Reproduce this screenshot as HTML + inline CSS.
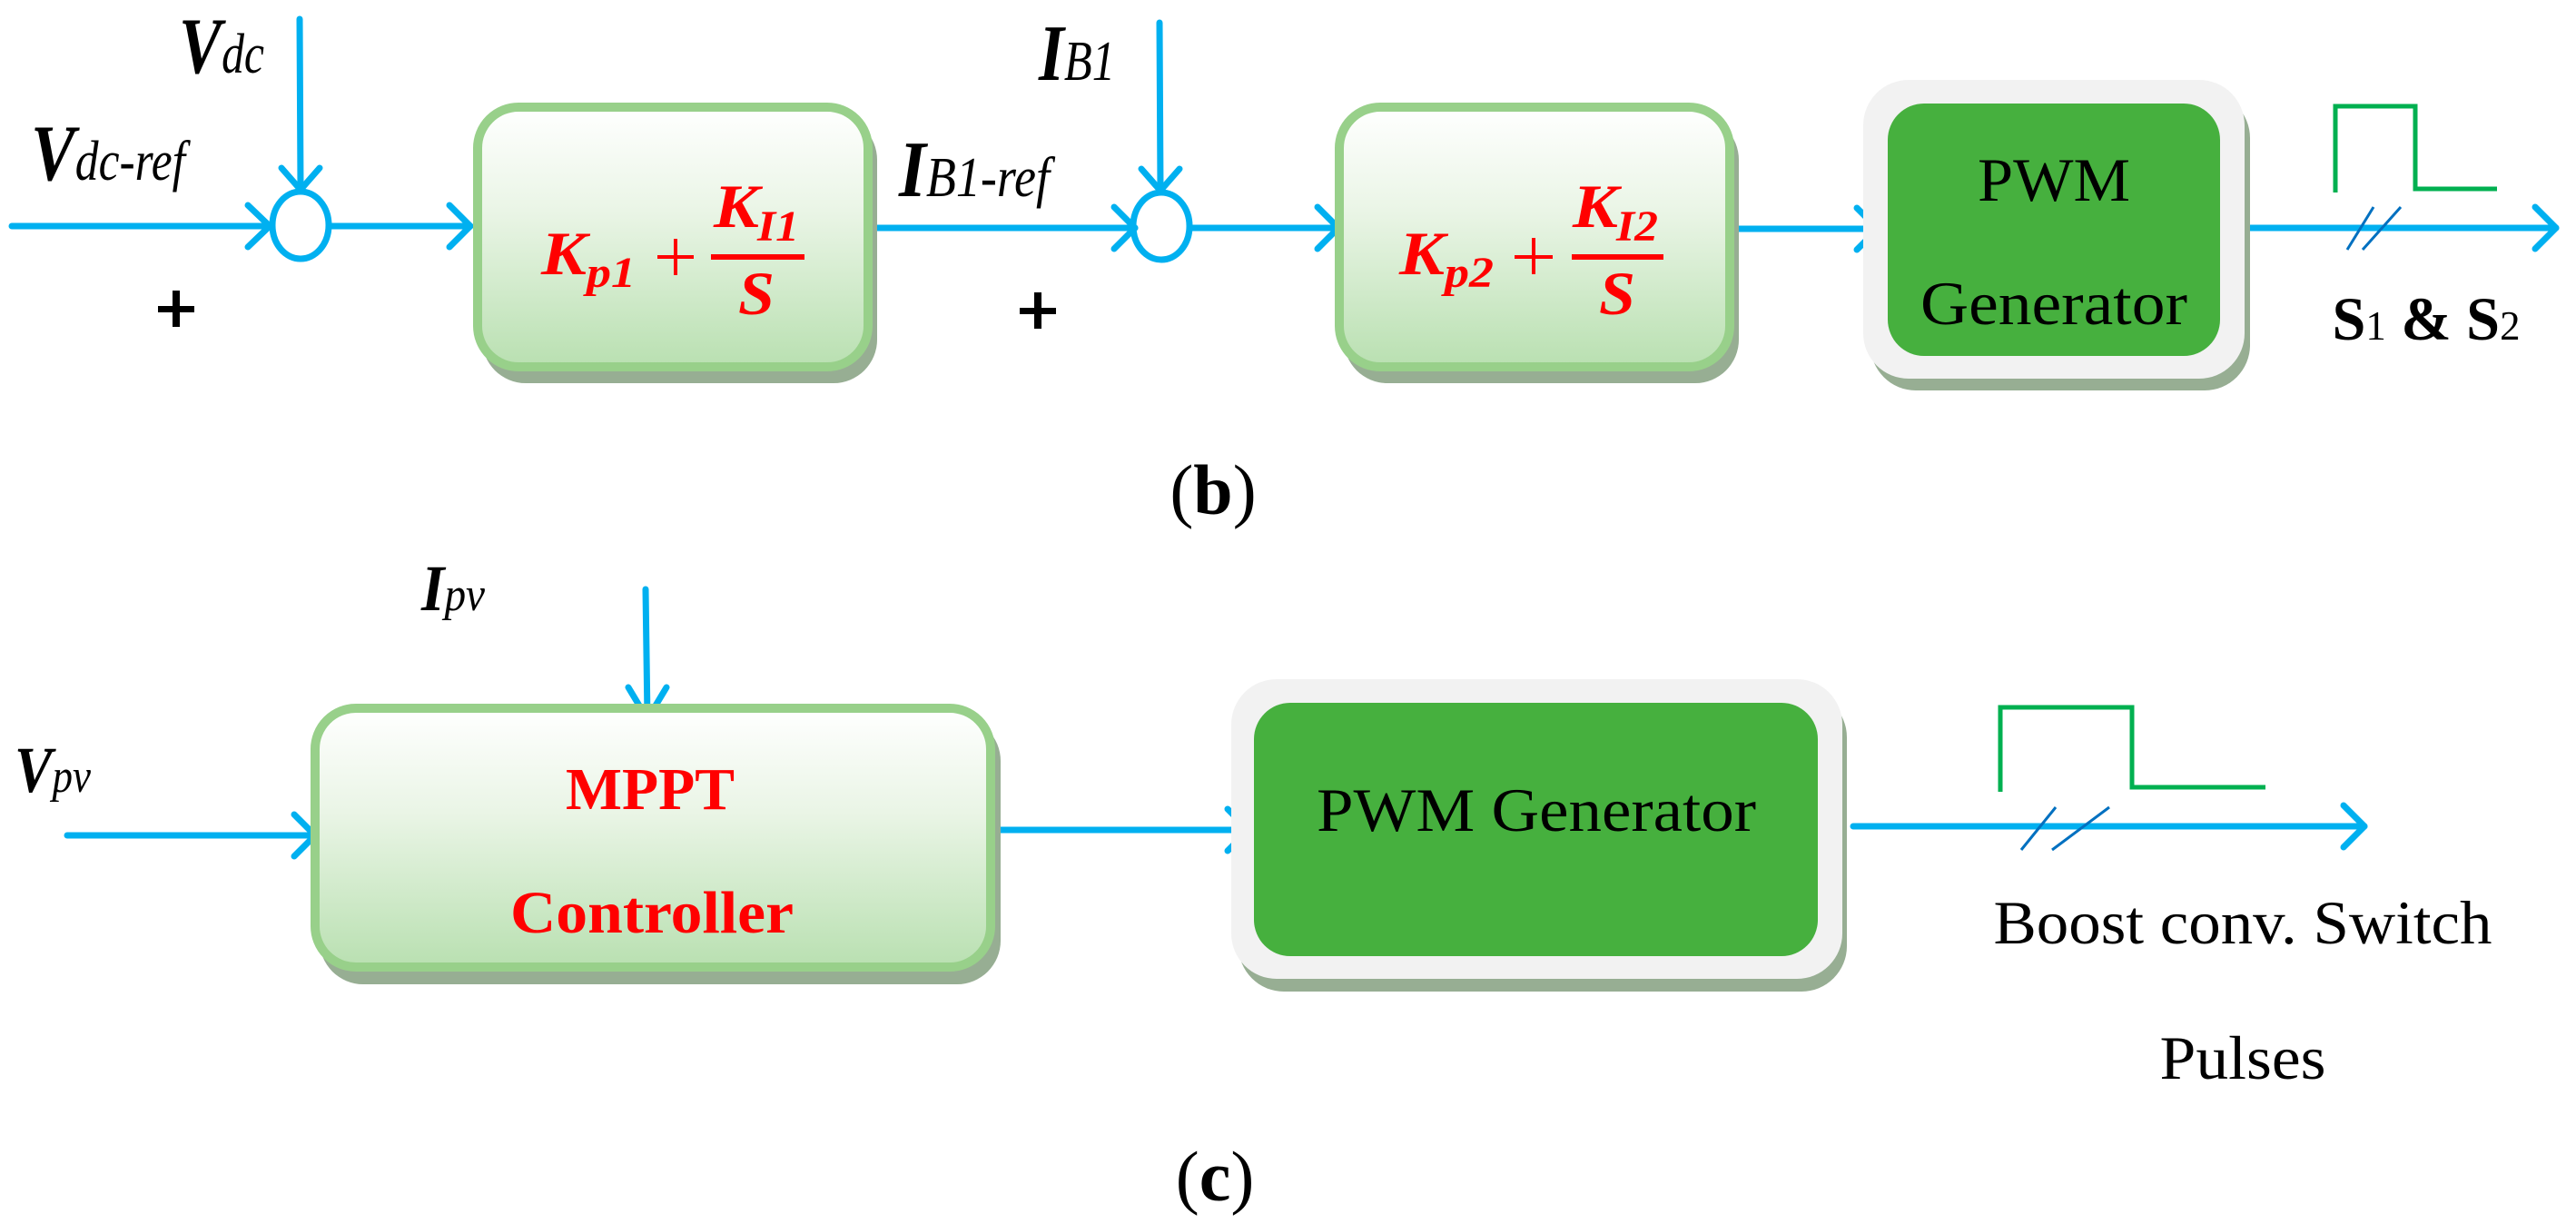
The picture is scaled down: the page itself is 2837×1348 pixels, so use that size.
<!DOCTYPE html>
<html><head><meta charset="utf-8"><style>html,body{margin:0;padding:0;background:#fff}svg{display:block}</style></head><body>
<svg width="2837" height="1348" viewBox="0 0 2837 1348" xmlns="http://www.w3.org/2000/svg" font-family="Liberation Serif, serif">
<defs>
<linearGradient id="gb" x1="0" y1="0" x2="0" y2="1"><stop offset="0" stop-color="#ffffff"/><stop offset="0.4" stop-color="#eaf5e6"/><stop offset="1" stop-color="#b9e0b1"/></linearGradient>
</defs>
<g fill="none" stroke="#00b0f0" stroke-width="7" stroke-linecap="round" stroke-linejoin="round">
<line x1="13" y1="249" x2="297" y2="249"/><polyline points="273,226 297,249 273,272"/>
<line x1="330" y1="21" x2="331" y2="208"/><polyline points="310,185 331,209 352,185"/>
<ellipse cx="331" cy="248" rx="31" ry="37"/>
<line x1="363" y1="249" x2="518" y2="249"/><polyline points="495,226 518,249 495,272"/>
<line x1="961" y1="251" x2="1250" y2="251"/><polyline points="1227,228 1250,251 1227,274"/>
<line x1="1277" y1="25" x2="1278" y2="209"/><polyline points="1257,186 1278,210 1299,186"/>
<ellipse cx="1279" cy="249" rx="31" ry="37"/>
<line x1="1311" y1="251" x2="1474" y2="251"/><polyline points="1451,228 1474,251 1451,274"/>
<line x1="1908" y1="252" x2="2068" y2="252"/><polyline points="2045,229 2068,252 2045,275"/>
<line x1="2472" y1="251" x2="2815" y2="251"/><polyline points="2792,228 2815,251 2792,274"/>
<line x1="711" y1="649" x2="713" y2="792"/><polyline points="692,757 713,792 734,757"/>
<line x1="74" y1="920" x2="347" y2="920"/><polyline points="324,897 347,920 324,943"/>
<line x1="1101" y1="914" x2="1375" y2="914"/><polyline points="1352,891 1375,914 1352,937"/>
<line x1="2041" y1="910" x2="2604" y2="910"/><polyline points="2581,887 2604,910 2581,933"/>
</g>
<g stroke="#0070c0" stroke-width="3">
<line x1="2585" y1="275" x2="2614" y2="228"/><line x1="2602" y1="275" x2="2644" y2="228"/>
<line x1="2226" y1="936" x2="2264" y2="889"/><line x1="2260" y1="936" x2="2323" y2="889"/>
</g>
<g fill="none" stroke="#00b050" stroke-width="5">
<polyline points="2572,212 2572,117 2660,117 2660,208 2750,208"/>
<polyline points="2203,872 2203,779 2348,779 2348,867 2495,867"/>
</g>
<g fill="#97ae93">
<rect x="531" y="128" width="435" height="294" rx="48"/>
<rect x="1480" y="128" width="435" height="294" rx="48"/>
<rect x="2060" y="102" width="418" height="328" rx="50"/>
<rect x="352" y="790" width="750" height="294" rx="48"/>
<rect x="1364" y="762" width="670" height="330" rx="50"/>
</g>
<g fill="url(#gb)" stroke="#98d08a" stroke-width="10">
<rect x="526" y="118" width="430" height="286" rx="45"/>
<rect x="1475" y="118" width="430" height="286" rx="45"/>
<rect x="347" y="780" width="744" height="285" rx="45"/>
</g>
<rect x="2052" y="88" width="420" height="329" rx="50" fill="#f2f2f2"/>
<rect x="2079" y="114" width="366" height="278" rx="40" fill="#46b03e"/>
<rect x="1356" y="748" width="673" height="330" rx="50" fill="#f2f2f2"/>
<rect x="1381" y="774" width="621" height="279" rx="40" fill="#46b03e"/>
<g fill="#ff0000" font-weight="bold" font-style="italic">
<text x="596" y="302" font-size="68" textLength="50" lengthAdjust="spacingAndGlyphs">K</text><text x="646" y="316" font-size="48" textLength="54" lengthAdjust="spacingAndGlyphs">p1</text>
<text x="786" y="250" font-size="68" textLength="50" lengthAdjust="spacingAndGlyphs">K</text><text x="834" y="265" font-size="48" textLength="46" lengthAdjust="spacingAndGlyphs">I1</text>
<text x="813" y="346" font-size="68" textLength="40" lengthAdjust="spacingAndGlyphs">S</text>
<text x="1541" y="302" font-size="68" textLength="50" lengthAdjust="spacingAndGlyphs">K</text><text x="1591" y="316" font-size="48" textLength="54" lengthAdjust="spacingAndGlyphs">p2</text>
<text x="1732" y="250" font-size="68" textLength="50" lengthAdjust="spacingAndGlyphs">K</text><text x="1780" y="265" font-size="48" textLength="46" lengthAdjust="spacingAndGlyphs">I2</text>
<text x="1761" y="346" font-size="68" textLength="40" lengthAdjust="spacingAndGlyphs">S</text>
</g>
<g fill="#ff0000">
<rect x="724" y="281" width="40" height="4"/><rect x="742" y="263" width="4" height="40"/>
<rect x="783" y="280" width="103" height="6"/>
<rect x="1668" y="281" width="42" height="4"/><rect x="1687" y="262" width="4" height="40"/>
<rect x="1731" y="280" width="101" height="6"/>
</g>
<g fill="#ff0000" font-size="66" font-weight="bold" text-anchor="middle">
<text x="716" y="891" textLength="186" lengthAdjust="spacingAndGlyphs">MPPT</text>
<text x="718" y="1027" textLength="312" lengthAdjust="spacingAndGlyphs">Controller</text>
</g>
<g fill="#000">
<text x="197" y="80" font-size="88" font-weight="bold" font-style="italic" textLength="94" lengthAdjust="spacingAndGlyphs">V<tspan font-size="62" font-weight="normal">dc</tspan></text>
<text x="34" y="198" font-size="88" font-weight="bold" font-style="italic" textLength="170" lengthAdjust="spacingAndGlyphs">V<tspan font-size="62" font-weight="normal">dc-ref</tspan></text>
<text x="1144" y="88" font-size="88" font-weight="bold" font-style="italic" textLength="84" lengthAdjust="spacingAndGlyphs">I<tspan font-size="62" font-weight="normal">B1</tspan></text>
<text x="990" y="216" font-size="88" font-weight="bold" font-style="italic" textLength="166" lengthAdjust="spacingAndGlyphs">I<tspan font-size="62" font-weight="normal">B1-ref</tspan></text>
<text x="464" y="672" font-size="72" font-weight="bold" font-style="italic" textLength="70" lengthAdjust="spacingAndGlyphs">I<tspan font-size="52" font-weight="normal">pv</tspan></text>
<text x="16" y="872" font-size="72" font-weight="bold" font-style="italic" textLength="84" lengthAdjust="spacingAndGlyphs">V<tspan font-size="52" font-weight="normal">pv</tspan></text>
<rect x="174" y="337" width="40" height="7"/><rect x="190" y="320" width="8" height="40"/>
<rect x="1123" y="339" width="40" height="7"/><rect x="1139" y="322" width="8" height="40"/>
<text x="1336" y="566" font-size="78" text-anchor="middle">(<tspan font-weight="bold">b</tspan>)</text>
<text x="1338" y="1322" font-size="78" text-anchor="middle">(<tspan font-weight="bold">c</tspan>)</text>
<g font-size="68" text-anchor="middle">
<text x="2262" y="221" textLength="168" lengthAdjust="spacingAndGlyphs">PWM</text>
<text x="2262" y="357" textLength="294" lengthAdjust="spacingAndGlyphs">Generator</text>
<text x="1692" y="915" textLength="484" lengthAdjust="spacingAndGlyphs">PWM Generator</text>
<text x="2470" y="1039" textLength="549" lengthAdjust="spacingAndGlyphs">Boost conv. Switch</text>
<text x="2470" y="1188" textLength="183" lengthAdjust="spacingAndGlyphs">Pulses</text>
<text x="2672" y="374" textLength="207" lengthAdjust="spacingAndGlyphs" font-weight="bold">S<tspan font-weight="normal" font-size="46">1</tspan> &amp; S<tspan font-weight="normal" font-size="46">2</tspan></text>
</g>
</g>
</svg>
</body></html>
